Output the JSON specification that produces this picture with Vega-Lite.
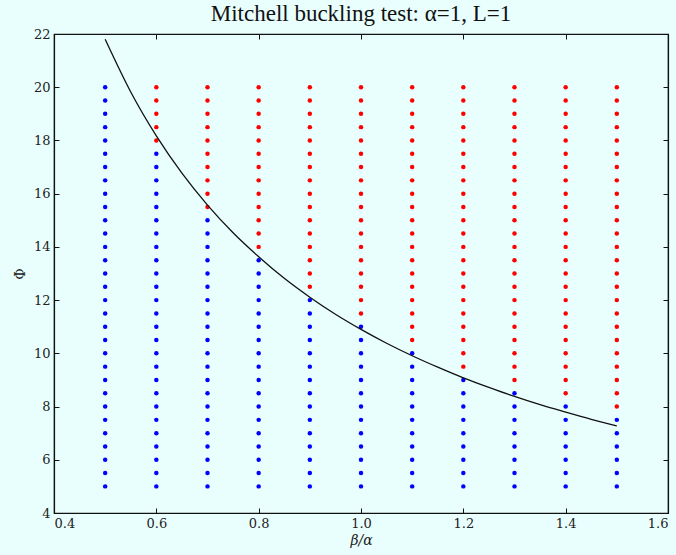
{
  "$schema": "https://vega.github.io/schema/vega-lite/v6.json",
  "width": 614,
  "height": 479,
  "autosize": {"type": "none"},
  "padding": {"left": 54, "top": 34, "right": 8, "bottom": 42},
  "background": "#e9fffe",
  "title": {"text": "Mitchell buckling test: α=1, L=1", "font": "Liberation Serif", "fontSize": 23, "fontWeight": "normal", "color": "#111", "anchor": "middle", "offset": 2},
  "config": {
    "font": "DejaVu Serif",
    "view": {"stroke": "#111", "strokeWidth": 1.2},
    "axis": {"grid": false, "domainColor": "#111", "domainWidth": 1.2, "tickColor": "#111", "tickSize": -5, "tickWidth": 1, "labelFont": "DejaVu Serif", "labelFontSize": 13, "labelColor": "#222", "titleFont": "DejaVu Serif", "titleFontSize": 14, "titleFontWeight": "normal", "titleColor": "#222", "labelPadding": 9}
  },
  "datasets": {
    "pts": [
      {"beta":0.5,"phi":5,"state":"stable"},{"beta":0.5,"phi":5.5,"state":"stable"},{"beta":0.5,"phi":6,"state":"stable"},{"beta":0.5,"phi":6.5,"state":"stable"},{"beta":0.5,"phi":7,"state":"stable"},{"beta":0.5,"phi":7.5,"state":"stable"},{"beta":0.5,"phi":8,"state":"stable"},{"beta":0.5,"phi":8.5,"state":"stable"},{"beta":0.5,"phi":9,"state":"stable"},{"beta":0.5,"phi":9.5,"state":"stable"},{"beta":0.5,"phi":10,"state":"stable"},{"beta":0.5,"phi":10.5,"state":"stable"},{"beta":0.5,"phi":11,"state":"stable"},{"beta":0.5,"phi":11.5,"state":"stable"},{"beta":0.5,"phi":12,"state":"stable"},{"beta":0.5,"phi":12.5,"state":"stable"},{"beta":0.5,"phi":13,"state":"stable"},{"beta":0.5,"phi":13.5,"state":"stable"},{"beta":0.5,"phi":14,"state":"stable"},{"beta":0.5,"phi":14.5,"state":"stable"},{"beta":0.5,"phi":15,"state":"stable"},{"beta":0.5,"phi":15.5,"state":"stable"},{"beta":0.5,"phi":16,"state":"stable"},{"beta":0.5,"phi":16.5,"state":"stable"},{"beta":0.5,"phi":17,"state":"stable"},{"beta":0.5,"phi":17.5,"state":"stable"},{"beta":0.5,"phi":18,"state":"stable"},{"beta":0.5,"phi":18.5,"state":"stable"},{"beta":0.5,"phi":19,"state":"stable"},{"beta":0.5,"phi":19.5,"state":"stable"},{"beta":0.5,"phi":20,"state":"stable"},
      {"beta":0.6,"phi":5,"state":"stable"},{"beta":0.6,"phi":5.5,"state":"stable"},{"beta":0.6,"phi":6,"state":"stable"},{"beta":0.6,"phi":6.5,"state":"stable"},{"beta":0.6,"phi":7,"state":"stable"},{"beta":0.6,"phi":7.5,"state":"stable"},{"beta":0.6,"phi":8,"state":"stable"},{"beta":0.6,"phi":8.5,"state":"stable"},{"beta":0.6,"phi":9,"state":"stable"},{"beta":0.6,"phi":9.5,"state":"stable"},{"beta":0.6,"phi":10,"state":"stable"},{"beta":0.6,"phi":10.5,"state":"stable"},{"beta":0.6,"phi":11,"state":"stable"},{"beta":0.6,"phi":11.5,"state":"stable"},{"beta":0.6,"phi":12,"state":"stable"},{"beta":0.6,"phi":12.5,"state":"stable"},{"beta":0.6,"phi":13,"state":"stable"},{"beta":0.6,"phi":13.5,"state":"stable"},{"beta":0.6,"phi":14,"state":"stable"},{"beta":0.6,"phi":14.5,"state":"stable"},{"beta":0.6,"phi":15,"state":"stable"},{"beta":0.6,"phi":15.5,"state":"stable"},{"beta":0.6,"phi":16,"state":"stable"},{"beta":0.6,"phi":16.5,"state":"stable"},{"beta":0.6,"phi":17,"state":"stable"},{"beta":0.6,"phi":17.5,"state":"stable"},{"beta":0.6,"phi":18,"state":"unstable"},{"beta":0.6,"phi":18.5,"state":"unstable"},{"beta":0.6,"phi":19,"state":"unstable"},{"beta":0.6,"phi":19.5,"state":"unstable"},{"beta":0.6,"phi":20,"state":"unstable"},
      {"beta":0.7,"phi":5,"state":"stable"},{"beta":0.7,"phi":5.5,"state":"stable"},{"beta":0.7,"phi":6,"state":"stable"},{"beta":0.7,"phi":6.5,"state":"stable"},{"beta":0.7,"phi":7,"state":"stable"},{"beta":0.7,"phi":7.5,"state":"stable"},{"beta":0.7,"phi":8,"state":"stable"},{"beta":0.7,"phi":8.5,"state":"stable"},{"beta":0.7,"phi":9,"state":"stable"},{"beta":0.7,"phi":9.5,"state":"stable"},{"beta":0.7,"phi":10,"state":"stable"},{"beta":0.7,"phi":10.5,"state":"stable"},{"beta":0.7,"phi":11,"state":"stable"},{"beta":0.7,"phi":11.5,"state":"stable"},{"beta":0.7,"phi":12,"state":"stable"},{"beta":0.7,"phi":12.5,"state":"stable"},{"beta":0.7,"phi":13,"state":"stable"},{"beta":0.7,"phi":13.5,"state":"stable"},{"beta":0.7,"phi":14,"state":"stable"},{"beta":0.7,"phi":14.5,"state":"stable"},{"beta":0.7,"phi":15,"state":"stable"},{"beta":0.7,"phi":15.5,"state":"unstable"},{"beta":0.7,"phi":16,"state":"unstable"},{"beta":0.7,"phi":16.5,"state":"unstable"},{"beta":0.7,"phi":17,"state":"unstable"},{"beta":0.7,"phi":17.5,"state":"unstable"},{"beta":0.7,"phi":18,"state":"unstable"},{"beta":0.7,"phi":18.5,"state":"unstable"},{"beta":0.7,"phi":19,"state":"unstable"},{"beta":0.7,"phi":19.5,"state":"unstable"},{"beta":0.7,"phi":20,"state":"unstable"},
      {"beta":0.8,"phi":5,"state":"stable"},{"beta":0.8,"phi":5.5,"state":"stable"},{"beta":0.8,"phi":6,"state":"stable"},{"beta":0.8,"phi":6.5,"state":"stable"},{"beta":0.8,"phi":7,"state":"stable"},{"beta":0.8,"phi":7.5,"state":"stable"},{"beta":0.8,"phi":8,"state":"stable"},{"beta":0.8,"phi":8.5,"state":"stable"},{"beta":0.8,"phi":9,"state":"stable"},{"beta":0.8,"phi":9.5,"state":"stable"},{"beta":0.8,"phi":10,"state":"stable"},{"beta":0.8,"phi":10.5,"state":"stable"},{"beta":0.8,"phi":11,"state":"stable"},{"beta":0.8,"phi":11.5,"state":"stable"},{"beta":0.8,"phi":12,"state":"stable"},{"beta":0.8,"phi":12.5,"state":"stable"},{"beta":0.8,"phi":13,"state":"stable"},{"beta":0.8,"phi":13.5,"state":"stable"},{"beta":0.8,"phi":14,"state":"unstable"},{"beta":0.8,"phi":14.5,"state":"unstable"},{"beta":0.8,"phi":15,"state":"unstable"},{"beta":0.8,"phi":15.5,"state":"unstable"},{"beta":0.8,"phi":16,"state":"unstable"},{"beta":0.8,"phi":16.5,"state":"unstable"},{"beta":0.8,"phi":17,"state":"unstable"},{"beta":0.8,"phi":17.5,"state":"unstable"},{"beta":0.8,"phi":18,"state":"unstable"},{"beta":0.8,"phi":18.5,"state":"unstable"},{"beta":0.8,"phi":19,"state":"unstable"},{"beta":0.8,"phi":19.5,"state":"unstable"},{"beta":0.8,"phi":20,"state":"unstable"},
      {"beta":0.9,"phi":5,"state":"stable"},{"beta":0.9,"phi":5.5,"state":"stable"},{"beta":0.9,"phi":6,"state":"stable"},{"beta":0.9,"phi":6.5,"state":"stable"},{"beta":0.9,"phi":7,"state":"stable"},{"beta":0.9,"phi":7.5,"state":"stable"},{"beta":0.9,"phi":8,"state":"stable"},{"beta":0.9,"phi":8.5,"state":"stable"},{"beta":0.9,"phi":9,"state":"stable"},{"beta":0.9,"phi":9.5,"state":"stable"},{"beta":0.9,"phi":10,"state":"stable"},{"beta":0.9,"phi":10.5,"state":"stable"},{"beta":0.9,"phi":11,"state":"stable"},{"beta":0.9,"phi":11.5,"state":"stable"},{"beta":0.9,"phi":12,"state":"stable"},{"beta":0.9,"phi":12.5,"state":"unstable"},{"beta":0.9,"phi":13,"state":"unstable"},{"beta":0.9,"phi":13.5,"state":"unstable"},{"beta":0.9,"phi":14,"state":"unstable"},{"beta":0.9,"phi":14.5,"state":"unstable"},{"beta":0.9,"phi":15,"state":"unstable"},{"beta":0.9,"phi":15.5,"state":"unstable"},{"beta":0.9,"phi":16,"state":"unstable"},{"beta":0.9,"phi":16.5,"state":"unstable"},{"beta":0.9,"phi":17,"state":"unstable"},{"beta":0.9,"phi":17.5,"state":"unstable"},{"beta":0.9,"phi":18,"state":"unstable"},{"beta":0.9,"phi":18.5,"state":"unstable"},{"beta":0.9,"phi":19,"state":"unstable"},{"beta":0.9,"phi":19.5,"state":"unstable"},{"beta":0.9,"phi":20,"state":"unstable"},
      {"beta":1.0,"phi":5,"state":"stable"},{"beta":1.0,"phi":5.5,"state":"stable"},{"beta":1.0,"phi":6,"state":"stable"},{"beta":1.0,"phi":6.5,"state":"stable"},{"beta":1.0,"phi":7,"state":"stable"},{"beta":1.0,"phi":7.5,"state":"stable"},{"beta":1.0,"phi":8,"state":"stable"},{"beta":1.0,"phi":8.5,"state":"stable"},{"beta":1.0,"phi":9,"state":"stable"},{"beta":1.0,"phi":9.5,"state":"stable"},{"beta":1.0,"phi":10,"state":"stable"},{"beta":1.0,"phi":10.5,"state":"stable"},{"beta":1.0,"phi":11,"state":"stable"},{"beta":1.0,"phi":11.5,"state":"unstable"},{"beta":1.0,"phi":12,"state":"unstable"},{"beta":1.0,"phi":12.5,"state":"unstable"},{"beta":1.0,"phi":13,"state":"unstable"},{"beta":1.0,"phi":13.5,"state":"unstable"},{"beta":1.0,"phi":14,"state":"unstable"},{"beta":1.0,"phi":14.5,"state":"unstable"},{"beta":1.0,"phi":15,"state":"unstable"},{"beta":1.0,"phi":15.5,"state":"unstable"},{"beta":1.0,"phi":16,"state":"unstable"},{"beta":1.0,"phi":16.5,"state":"unstable"},{"beta":1.0,"phi":17,"state":"unstable"},{"beta":1.0,"phi":17.5,"state":"unstable"},{"beta":1.0,"phi":18,"state":"unstable"},{"beta":1.0,"phi":18.5,"state":"unstable"},{"beta":1.0,"phi":19,"state":"unstable"},{"beta":1.0,"phi":19.5,"state":"unstable"},{"beta":1.0,"phi":20,"state":"unstable"},
      {"beta":1.1,"phi":5,"state":"stable"},{"beta":1.1,"phi":5.5,"state":"stable"},{"beta":1.1,"phi":6,"state":"stable"},{"beta":1.1,"phi":6.5,"state":"stable"},{"beta":1.1,"phi":7,"state":"stable"},{"beta":1.1,"phi":7.5,"state":"stable"},{"beta":1.1,"phi":8,"state":"stable"},{"beta":1.1,"phi":8.5,"state":"stable"},{"beta":1.1,"phi":9,"state":"stable"},{"beta":1.1,"phi":9.5,"state":"stable"},{"beta":1.1,"phi":10,"state":"stable"},{"beta":1.1,"phi":10.5,"state":"unstable"},{"beta":1.1,"phi":11,"state":"unstable"},{"beta":1.1,"phi":11.5,"state":"unstable"},{"beta":1.1,"phi":12,"state":"unstable"},{"beta":1.1,"phi":12.5,"state":"unstable"},{"beta":1.1,"phi":13,"state":"unstable"},{"beta":1.1,"phi":13.5,"state":"unstable"},{"beta":1.1,"phi":14,"state":"unstable"},{"beta":1.1,"phi":14.5,"state":"unstable"},{"beta":1.1,"phi":15,"state":"unstable"},{"beta":1.1,"phi":15.5,"state":"unstable"},{"beta":1.1,"phi":16,"state":"unstable"},{"beta":1.1,"phi":16.5,"state":"unstable"},{"beta":1.1,"phi":17,"state":"unstable"},{"beta":1.1,"phi":17.5,"state":"unstable"},{"beta":1.1,"phi":18,"state":"unstable"},{"beta":1.1,"phi":18.5,"state":"unstable"},{"beta":1.1,"phi":19,"state":"unstable"},{"beta":1.1,"phi":19.5,"state":"unstable"},{"beta":1.1,"phi":20,"state":"unstable"},
      {"beta":1.2,"phi":5,"state":"stable"},{"beta":1.2,"phi":5.5,"state":"stable"},{"beta":1.2,"phi":6,"state":"stable"},{"beta":1.2,"phi":6.5,"state":"stable"},{"beta":1.2,"phi":7,"state":"stable"},{"beta":1.2,"phi":7.5,"state":"stable"},{"beta":1.2,"phi":8,"state":"stable"},{"beta":1.2,"phi":8.5,"state":"stable"},{"beta":1.2,"phi":9,"state":"stable"},{"beta":1.2,"phi":9.5,"state":"unstable"},{"beta":1.2,"phi":10,"state":"unstable"},{"beta":1.2,"phi":10.5,"state":"unstable"},{"beta":1.2,"phi":11,"state":"unstable"},{"beta":1.2,"phi":11.5,"state":"unstable"},{"beta":1.2,"phi":12,"state":"unstable"},{"beta":1.2,"phi":12.5,"state":"unstable"},{"beta":1.2,"phi":13,"state":"unstable"},{"beta":1.2,"phi":13.5,"state":"unstable"},{"beta":1.2,"phi":14,"state":"unstable"},{"beta":1.2,"phi":14.5,"state":"unstable"},{"beta":1.2,"phi":15,"state":"unstable"},{"beta":1.2,"phi":15.5,"state":"unstable"},{"beta":1.2,"phi":16,"state":"unstable"},{"beta":1.2,"phi":16.5,"state":"unstable"},{"beta":1.2,"phi":17,"state":"unstable"},{"beta":1.2,"phi":17.5,"state":"unstable"},{"beta":1.2,"phi":18,"state":"unstable"},{"beta":1.2,"phi":18.5,"state":"unstable"},{"beta":1.2,"phi":19,"state":"unstable"},{"beta":1.2,"phi":19.5,"state":"unstable"},{"beta":1.2,"phi":20,"state":"unstable"},
      {"beta":1.3,"phi":5,"state":"stable"},{"beta":1.3,"phi":5.5,"state":"stable"},{"beta":1.3,"phi":6,"state":"stable"},{"beta":1.3,"phi":6.5,"state":"stable"},{"beta":1.3,"phi":7,"state":"stable"},{"beta":1.3,"phi":7.5,"state":"stable"},{"beta":1.3,"phi":8,"state":"stable"},{"beta":1.3,"phi":8.5,"state":"stable"},{"beta":1.3,"phi":9,"state":"unstable"},{"beta":1.3,"phi":9.5,"state":"unstable"},{"beta":1.3,"phi":10,"state":"unstable"},{"beta":1.3,"phi":10.5,"state":"unstable"},{"beta":1.3,"phi":11,"state":"unstable"},{"beta":1.3,"phi":11.5,"state":"unstable"},{"beta":1.3,"phi":12,"state":"unstable"},{"beta":1.3,"phi":12.5,"state":"unstable"},{"beta":1.3,"phi":13,"state":"unstable"},{"beta":1.3,"phi":13.5,"state":"unstable"},{"beta":1.3,"phi":14,"state":"unstable"},{"beta":1.3,"phi":14.5,"state":"unstable"},{"beta":1.3,"phi":15,"state":"unstable"},{"beta":1.3,"phi":15.5,"state":"unstable"},{"beta":1.3,"phi":16,"state":"unstable"},{"beta":1.3,"phi":16.5,"state":"unstable"},{"beta":1.3,"phi":17,"state":"unstable"},{"beta":1.3,"phi":17.5,"state":"unstable"},{"beta":1.3,"phi":18,"state":"unstable"},{"beta":1.3,"phi":18.5,"state":"unstable"},{"beta":1.3,"phi":19,"state":"unstable"},{"beta":1.3,"phi":19.5,"state":"unstable"},{"beta":1.3,"phi":20,"state":"unstable"},
      {"beta":1.4,"phi":5,"state":"stable"},{"beta":1.4,"phi":5.5,"state":"stable"},{"beta":1.4,"phi":6,"state":"stable"},{"beta":1.4,"phi":6.5,"state":"stable"},{"beta":1.4,"phi":7,"state":"stable"},{"beta":1.4,"phi":7.5,"state":"stable"},{"beta":1.4,"phi":8,"state":"stable"},{"beta":1.4,"phi":8.5,"state":"unstable"},{"beta":1.4,"phi":9,"state":"unstable"},{"beta":1.4,"phi":9.5,"state":"unstable"},{"beta":1.4,"phi":10,"state":"unstable"},{"beta":1.4,"phi":10.5,"state":"unstable"},{"beta":1.4,"phi":11,"state":"unstable"},{"beta":1.4,"phi":11.5,"state":"unstable"},{"beta":1.4,"phi":12,"state":"unstable"},{"beta":1.4,"phi":12.5,"state":"unstable"},{"beta":1.4,"phi":13,"state":"unstable"},{"beta":1.4,"phi":13.5,"state":"unstable"},{"beta":1.4,"phi":14,"state":"unstable"},{"beta":1.4,"phi":14.5,"state":"unstable"},{"beta":1.4,"phi":15,"state":"unstable"},{"beta":1.4,"phi":15.5,"state":"unstable"},{"beta":1.4,"phi":16,"state":"unstable"},{"beta":1.4,"phi":16.5,"state":"unstable"},{"beta":1.4,"phi":17,"state":"unstable"},{"beta":1.4,"phi":17.5,"state":"unstable"},{"beta":1.4,"phi":18,"state":"unstable"},{"beta":1.4,"phi":18.5,"state":"unstable"},{"beta":1.4,"phi":19,"state":"unstable"},{"beta":1.4,"phi":19.5,"state":"unstable"},{"beta":1.4,"phi":20,"state":"unstable"},
      {"beta":1.5,"phi":5,"state":"stable"},{"beta":1.5,"phi":5.5,"state":"stable"},{"beta":1.5,"phi":6,"state":"stable"},{"beta":1.5,"phi":6.5,"state":"stable"},{"beta":1.5,"phi":7,"state":"stable"},{"beta":1.5,"phi":7.5,"state":"stable"},{"beta":1.5,"phi":8,"state":"unstable"},{"beta":1.5,"phi":8.5,"state":"unstable"},{"beta":1.5,"phi":9,"state":"unstable"},{"beta":1.5,"phi":9.5,"state":"unstable"},{"beta":1.5,"phi":10,"state":"unstable"},{"beta":1.5,"phi":10.5,"state":"unstable"},{"beta":1.5,"phi":11,"state":"unstable"},{"beta":1.5,"phi":11.5,"state":"unstable"},{"beta":1.5,"phi":12,"state":"unstable"},{"beta":1.5,"phi":12.5,"state":"unstable"},{"beta":1.5,"phi":13,"state":"unstable"},{"beta":1.5,"phi":13.5,"state":"unstable"},{"beta":1.5,"phi":14,"state":"unstable"},{"beta":1.5,"phi":14.5,"state":"unstable"},{"beta":1.5,"phi":15,"state":"unstable"},{"beta":1.5,"phi":15.5,"state":"unstable"},{"beta":1.5,"phi":16,"state":"unstable"},{"beta":1.5,"phi":16.5,"state":"unstable"},{"beta":1.5,"phi":17,"state":"unstable"},{"beta":1.5,"phi":17.5,"state":"unstable"},{"beta":1.5,"phi":18,"state":"unstable"},{"beta":1.5,"phi":18.5,"state":"unstable"},{"beta":1.5,"phi":19,"state":"unstable"},{"beta":1.5,"phi":19.5,"state":"unstable"},{"beta":1.5,"phi":20,"state":"unstable"}
    ],
    "curve": [
      {"beta":0.5,"phi":21.8},{"beta":0.55,"phi":19.82},{"beta":0.6,"phi":18.17},{"beta":0.65,"phi":16.77},{"beta":0.7,"phi":15.57},{"beta":0.75,"phi":14.53},{"beta":0.8,"phi":13.63},{"beta":0.85,"phi":12.82},{"beta":0.9,"phi":12.11},{"beta":0.95,"phi":11.47},{"beta":1.0,"phi":10.9},{"beta":1.05,"phi":10.38},{"beta":1.1,"phi":9.91},{"beta":1.15,"phi":9.48},{"beta":1.2,"phi":9.08},{"beta":1.25,"phi":8.72},{"beta":1.3,"phi":8.38},{"beta":1.35,"phi":8.07},{"beta":1.4,"phi":7.79},{"beta":1.45,"phi":7.52},{"beta":1.5,"phi":7.27}
    ]
  },
  "resolve": {"axis": {"x": "independent", "y": "independent"}},
  "layer": [
    {
      "data": {"name": "pts"},
      "mark": {"type": "point", "shape": "circle", "filled": true, "size": 20, "opacity": 1},
      "encoding": {
        "x": {"field": "beta", "type": "quantitative", "scale": {"domain": [0.4, 1.6], "nice": false, "zero": false}, "axis": {"orient": "bottom", "title": "β/α", "titleFont": "DejaVu Serif", "titleFontStyle": "italic", "titlePadding": 3, "labelFont": "DejaVu Serif", "values": [0.4, 0.6, 0.8, 1.0, 1.2, 1.4, 1.6], "format": ".1f"}},
        "y": {"field": "phi", "type": "quantitative", "scale": {"domain": [4, 22], "nice": false, "zero": false}, "axis": {"orient": "left", "title": "Φ", "titleFont": "DejaVu Serif", "titlePadding": 6, "labelFont": "DejaVu Serif", "values": [4, 6, 8, 10, 12, 14, 16, 18, 20, 22], "format": "d"}},
        "color": {"field": "state", "type": "nominal", "scale": {"domain": ["stable", "unstable"], "range": ["#0000ff", "#ff0000"]}, "legend": null}
      }
    },
    {
      "data": {"name": "curve"},
      "mark": {"type": "line", "color": "#111", "strokeWidth": 1.3, "interpolate": "monotone"},
      "encoding": {
        "x": {"field": "beta", "type": "quantitative", "axis": {"orient": "top", "title": null, "labels": false, "values": [0.4, 0.6, 0.8, 1.0, 1.2, 1.4, 1.6]}},
        "y": {"field": "phi", "type": "quantitative", "axis": {"orient": "right", "title": null, "labels": false, "values": [4, 6, 8, 10, 12, 14, 16, 18, 20, 22]}}
      }
    }
  ]
}
